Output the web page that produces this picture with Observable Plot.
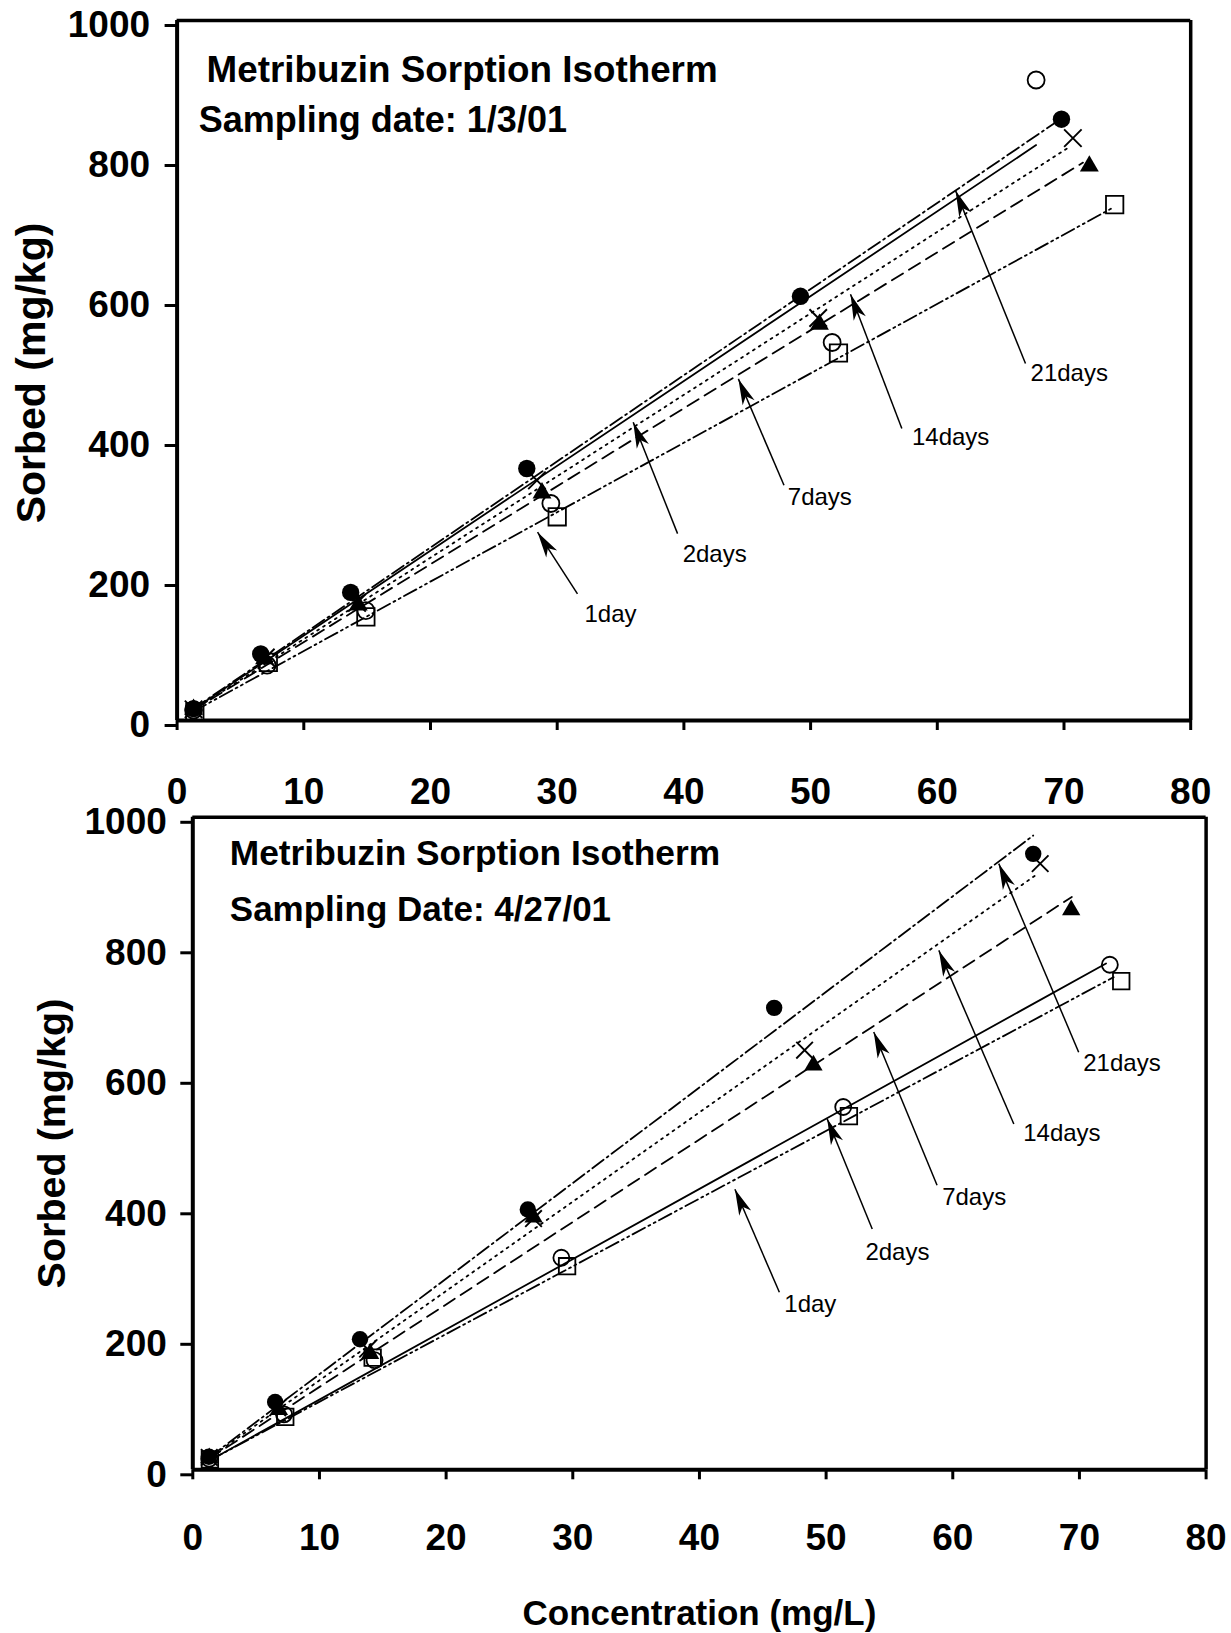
<!DOCTYPE html>
<html><head><meta charset="utf-8">
<script src="https://cdn.jsdelivr.net/npm/d3@7"></script>
<script src="https://cdn.jsdelivr.net/npm/@observablehq/plot@0.6"></script>
<style>
html,body{margin:0;padding:0;background:#fff;}
#wrap{position:relative;width:1231px;height:1633px;overflow:hidden;background:#fff;}
#wrap svg{position:absolute;left:0;}
</style></head><body><div id="wrap"></div>
<script>
// ---------- shared ----------
const xTicks = [0,10,20,30,40,50,60,70,80];
const yTicks = [0,200,400,600,800,1000];
const dayLabels = ["1day","2days","7days","14days","21days"];
const xTitle = "Concentration (mg/L)";
const yTitle = "Sorbed (mg/kg)";

// ---------- Chart A : sampling date 1/3/01 ----------
const aTitle1 = "Metribuzin Sorption Isotherm";
const aTitle2 = "Sampling date: 1/3/01";
// measured points [concentration, sorbed]
const a1day   = [[1.4,12],[7.2,83],[14.9,148],[30.0,291],[52.2,525],[74.0,737]];
const a2days  = [[1.3,15],[7.1,79],[14.9,157],[29.5,310],[51.7,540],[67.8,915]];
const a7days  = [[1.3,16],[6.9,88],[14.3,165],[28.8,325],[50.7,566],[72.0,792]];
const a14days = [[1.3,16],[7.0,90],[14.2,168],[28.4,343],[50.6,575],[70.7,832]];
const a21days = [[1.3,17],[6.6,95],[13.7,183],[27.6,360],[49.2,606],[69.8,859]];
// fitted isotherm lines (end points)
const aFit1day   = [[1.3,13],[73.7,731]];
const aFit2days  = [[1.3,16],[67.8,822]];
const aFit7days  = [[1.3,15],[71.5,797]];
const aFit14days = [[1.3,15],[70.4,819]];
const aFit21days = [[1.3,17],[69.8,860]];
// annotation arrows [tailX, tailY, tipX, tipY] and label anchor [x, y]
const aArrows   = [[31.6,181,28.45,269],[39.5,267,36.0,426],[47.9,336,44.3,488],[57.2,417,53.15,609],[66.96,510,61.44,757]];
const aLabelPos = [[32.15,151],[39.9,237],[48.2,319],[58.0,404],[67.36,496]];

// ---------- Chart B : sampling date 4/27/01 ----------
const bTitle1 = "Metribuzin Sorption Isotherm";
const bTitle2 = "Sampling Date: 4/27/01";
const b1day   = [[1.35,16],[7.3,81],[14.2,172],[29.55,312],[51.8,542],[73.3,749]];
const b2days  = [[1.3,17],[7.2,85],[14.35,168],[29.1,325],[51.35,556],[72.4,774]];
const b7days  = [[1.3,18],[6.8,92],[14.0,178],[26.9,387],[49.0,620],[69.35,858]];
const b14days = [[1.3,19],[6.7,95],[13.8,185],[26.9,385],[48.3,643],[66.9,929]];
const b21days = [[1.27,20],[6.5,104],[13.2,200],[26.45,399],[45.9,708],[66.35,944]];
const bFit1day   = [[1.3,14],[72.7,755]];
const bFit2days  = [[1.3,14],[72.1,776]];
const bFit7days  = [[1.3,17],[69.4,878]];
const bFit14days = [[1.3,18],[66.6,912]];
const bFit21days = [[1.3,19],[66.35,972]];
const bArrows   = [[46.31,272,42.8,430],[53.64,369,50.08,538],[58.76,436,53.76,671],[64.82,530,58.9,796],[69.94,640,63.63,929]];
const bLabelPos = [[46.7,253],[53.1,334],[59.16,418],[65.56,515],[70.3,623]];

// ---------- styles (in code) ----------
const FONT = "'Liberation Sans', Arial, Helvetica, sans-serif";
const lineDash = {"1day":"14,4,2,4,2,4","2days":null,"7days":"13,7","14days":"2,5","21days":"14,4,2,4"};

function stealth(color) {
  const ns = "http://www.w3.org/2000/svg";
  const m = document.createElementNS(ns, "marker");
  m.setAttribute("viewBox", "-27 -7 28 14");
  m.setAttribute("markerWidth", "28");
  m.setAttribute("markerHeight", "14");
  m.setAttribute("refX", "0");
  m.setAttribute("refY", "0");
  m.setAttribute("markerUnits", "userSpaceOnUse");
  m.setAttribute("orient", "auto");
  const p = document.createElementNS(ns, "path");
  p.setAttribute("d", "M0,0L-26,-6.5L-19,0L-26,6.5Z");
  p.setAttribute("fill", color || "black");
  p.setAttribute("stroke", "none");
  m.appendChild(p);
  return m;
}

function seriesMarks(pts, fits, sz) {
  const X = d => d[0], Y = d => d[1];
  const marks = [];
  dayLabels.forEach((n, i) => {
    marks.push(Plot.line(fits[i], {x: X, y: Y, stroke: "black", strokeWidth: 1.8,
      strokeDasharray: lineDash[n] || undefined}));
  });
  marks.push(Plot.dot(pts[0], {x: X, y: Y, symbol: "square", r: sz.sq, fill: "none", stroke: "black", strokeWidth: 1.8}));
  marks.push(Plot.dot(pts[1], {x: X, y: Y, symbol: "circle", r: sz.oc, fill: "none", stroke: "black", strokeWidth: 1.8}));
  marks.push(Plot.dot(pts[2], {x: X, y: Y, symbol: "triangle", r: sz.tri, fill: "black", stroke: "none"}));
  marks.push(Plot.dot(pts[3], {x: X, y: Y, symbol: "times", r: sz.x, fill: "none", stroke: "black", strokeWidth: 1.9}));
  marks.push(Plot.dot(pts[4], {x: X, y: Y, symbol: "circle", r: sz.fc, fill: "black", stroke: "none"}));
  return marks;
}

function makeChart(cfg, useCustomMarker) {
  const arrows = cfg.arrows.map((d, i) => ({x1: d[0], y1: d[1], x2: d[2], y2: d[3],
    label: dayLabels[i], lx: cfg.labelPos[i][0], ly: cfg.labelPos[i][1]}));
  const arrowMark = useCustomMarker
    ? Plot.link(arrows, {x1: "x1", y1: "y1", x2: "x2", y2: "y2", stroke: "black", strokeWidth: 1.5, markerEnd: stealth})
    : Plot.arrow(arrows, {x1: "x1", y1: "y1", x2: "x2", y2: "y2", stroke: "black", strokeWidth: 1.5, headLength: 20, headAngle: 30});
  const marks = [
    Plot.axisX({ticks: xTicks, tickFormat: d => String(d), tickSize: 10, tickPadding: cfg.xPad,
      fontSize: 37, fontWeight: "bold", strokeWidth: 3, label: null}),
    Plot.axisY({ticks: yTicks, tickFormat: d => String(d), tickSize: 12, tickPadding: cfg.yPad,
      fontSize: 37, fontWeight: "bold", strokeWidth: 3, dy: 5, label: null}),
    ...seriesMarks(cfg.pts, cfg.fits, cfg.sz),
    arrowMark,
    Plot.text(arrows, {x: "lx", y: "ly", text: "label", textAnchor: "start", lineAnchor: "middle",
      fontSize: 24, fontWeight: "normal", fill: "black"}),
    Plot.ruleY([1000], {stroke: "black", strokeWidth: 3.5}),
    Plot.ruleX([80], {stroke: "black", strokeWidth: 3.5}),
    Plot.ruleY([0], {stroke: "black", strokeWidth: 4}),
    Plot.ruleX([0], {stroke: "black", strokeWidth: 4}),
    Plot.text([cfg.title1], {frameAnchor: "top-left", text: d => d, dx: cfg.t1[0], dy: cfg.t1[1],
      textAnchor: "start", lineAnchor: "middle", fontSize: cfg.tfs1, fontWeight: "bold"}),
    Plot.text([cfg.title2], {frameAnchor: "top-left", text: d => d, dx: cfg.t2[0], dy: cfg.t2[1],
      textAnchor: "start", lineAnchor: "middle", fontSize: cfg.tfs2, fontWeight: "bold"}),
    Plot.text([yTitle], {frameAnchor: "left", text: d => d, dx: cfg.ylab[0], dy: cfg.ylab[1], rotate: -90,
      textAnchor: "middle", lineAnchor: "middle", fontSize: cfg.yfs, fontWeight: "bold"})
  ];
  if (cfg.xTitle) {
    marks.push(Plot.text([xTitle], {frameAnchor: "bottom", text: d => d, dy: cfg.xTitleDy,
      textAnchor: "middle", lineAnchor: "middle", fontSize: 35, fontWeight: "bold"}));
  }
  return Plot.plot({
    width: 1231, height: cfg.height,
    marginLeft: cfg.ml, marginRight: cfg.mr, marginTop: cfg.mt, marginBottom: cfg.mb,
    x: {domain: [0, 80]},
    y: {domain: [0, 1000]},
    style: {background: "transparent", overflow: "visible", fontFamily: FONT, color: "black"},
    marks
  });
}

const cfgA = {
  height: 805, ml: 176.6, mr: 40.8, mt: 20, mb: 85, xPad: 47, yPad: 15,
  pts: [a1day, a2days, a7days, a14days, a21days],
  fits: [aFit1day, aFit2days, aFit7days, aFit14days, aFit21days],
  arrows: aArrows, labelPos: aLabelPos,
  sz: {sq: 9.8, oc: 8.5, tri: 7, x: 8, fc: 8.7},
  title1: aTitle1, title2: aTitle2, tfs1: 36.8, tfs2: 36, t1: [29.5, 50.2], t2: [21.7, 99.5],
  ylab: [-145.4, 2.5], yfs: 41, xTitle: false
};
const cfgB = {
  height: 838, ml: 192.3, mr: 25.4, mt: 21.8, mb: 163.7, xPad: 44, yPad: 14,
  pts: [b1day, b2days, b7days, b14days, b21days],
  fits: [bFit1day, bFit2days, bFit7days, bFit14days, bFit21days],
  arrows: bArrows, labelPos: bLabelPos,
  sz: {sq: 9.3, oc: 8, tri: 6.8, x: 7.6, fc: 8.2},
  title1: bTitle1, title2: bTitle2, tfs1: 35.3, tfs2: 35, t1: [37, 36], t2: [37, 92],
  ylab: [-140, 0], yfs: 39.5, xTitle: true, xTitleDy: 143.7
};

function build(cfg) {
  try { return makeChart(cfg, true); } catch (e) { return makeChart(cfg, false); }
}
const wrap = document.getElementById("wrap");
const svgA = build(cfgA);
svgA.style.top = "0px";
wrap.appendChild(svgA);
const svgB = build(cfgB);
svgB.style.top = "795px";
wrap.appendChild(svgB);
</script></body></html>
